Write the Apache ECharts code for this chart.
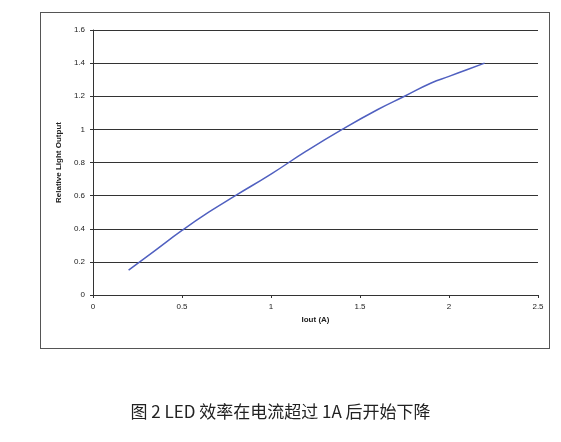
<!DOCTYPE html>
<html>
<head>
<meta charset="utf-8">
<script src="https://cdn.jsdelivr.net/npm/echarts@6/dist/echarts.min.js"></script>
<style>
body { margin: 0; background: #fff; }
#frame { position: absolute; left: 40px; top: 12px; width: 510px; height: 337px; border: 1px solid #555; box-sizing: border-box; }
#chart { position: absolute; left: 0; top: 0; width: 561px; height: 442px; }
#caption { position: absolute; left: 0; width: 561px; top: 398px; text-align: center; font: 17px "Noto Sans CJK SC", sans-serif; color: #222; }
</style>
</head>
<body>
<div id="frame"></div>
<div id="chart"></div>
<div id="caption">图 2 LED 效率在电流超过 1A 后开始下降</div>
<script>
// current (A) vs relative light output
var iout = [0.2, 0.35, 0.5, 0.65, 0.8, 1.0, 1.2, 1.4, 1.6, 1.75, 1.9, 2.0, 2.1, 2.2];
var lightOut = [0.15, 0.27, 0.39, 0.5, 0.6, 0.73, 0.87, 1.0, 1.12, 1.2, 1.28, 1.32, 1.36, 1.4];

var chart = echarts.init(document.getElementById('chart'));
chart.setOption({
	animation: false,
	grid: { left: 93, top: 30, width: 445, height: 265 },
	xAxis: {
		type: 'value', min: 0, max: 2.5, interval: 0.5,
		name: 'Iout (A)', nameLocation: 'middle', nameGap: 20,
		nameTextStyle: { fontSize: 8, fontWeight: 'bold', color: '#222', fontFamily: 'Arial' },
		axisLine: { lineStyle: { color: '#333' } },
		axisTick: { show: true, length: 3 },
		axisLabel: { fontSize: 8, color: '#222', fontFamily: 'Arial' },
		splitLine: { show: false }
	},
	yAxis: {
		type: 'value', min: 0, max: 1.6, interval: 0.2,
		name: 'Relative Light Output', nameLocation: 'middle', nameGap: 26,
		nameTextStyle: { fontSize: 8, fontWeight: 'bold', color: '#222', fontFamily: 'Arial' },
		axisLine: { show: true, lineStyle: { color: '#333' } },
		axisTick: { show: true, length: 3 },
		axisLabel: { fontSize: 8, color: '#222', fontFamily: 'Arial' },
		splitLine: { lineStyle: { color: '#333', width: 1 } }
	},
	series: [{
		type: 'line', smooth: true, showSymbol: false,
		data: iout.map(function (x, i) { return [x, lightOut[i]]; }),
		lineStyle: { color: '#5060c0', width: 1.5 }
	}]
});
</script>
</body>
</html>
